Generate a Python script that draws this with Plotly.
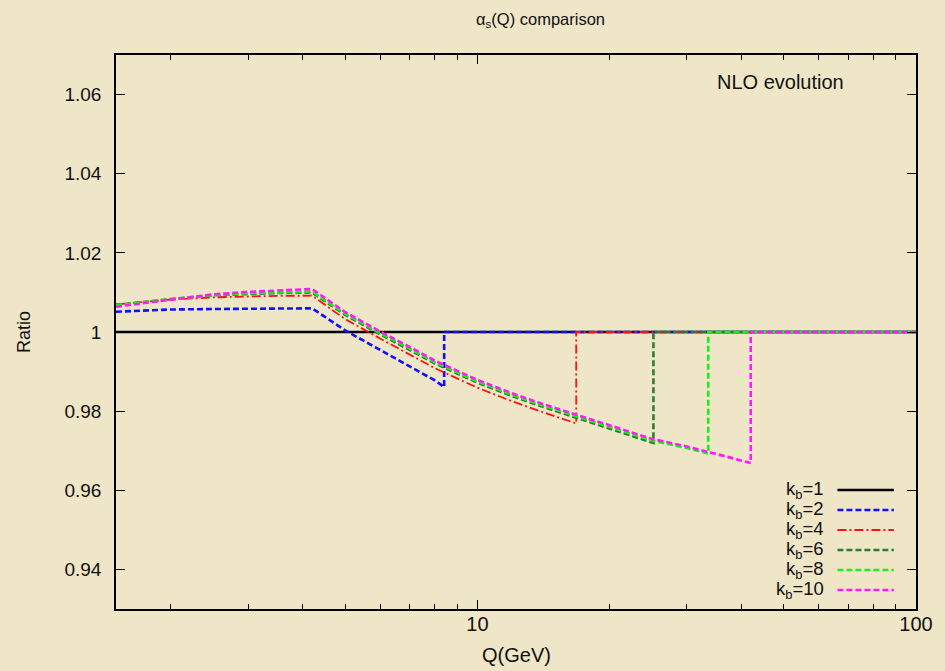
import math
import plotly.graph_objects as go

# alpha_s ratio to the k_b = 1 evolution (b-quark threshold at k_b * m_b)
m_b = 4.2

q_kb1 = [1.5, 100]
r_kb1 = [1.0, 1.0]

q_kb2 = [1.5, 2, 2.5, 3, 3.5, 4.2, 5, 6, 7, 8, 8.4, 8.4, 100]
r_kb2 = [1.00513, 1.00568, 1.00581, 1.00588, 1.00593, 1.00598,
         1.00038, 0.99545, 0.99141, 0.98775, 0.98611, 1.0, 1.0]

q_kb4 = [1.5, 2, 2.5, 3, 3.5, 4.2, 5, 6, 7, 8, 10, 12, 14, 16.8, 16.8, 100]
r_kb4 = [1.00699, 1.00821, 1.00876, 1.00904, 1.00914, 1.00917,
         1.00323, 0.99836, 0.99442, 0.99086, 0.98593, 0.98250, 0.97985,
         0.97689, 1.0, 1.0]

q_kb6 = [1.5, 2, 2.5, 3, 3.5, 4.2, 5, 6, 7, 8, 10, 12, 14, 16.8, 20, 25.2,
         25.2, 100]
r_kb6 = [1.00682, 1.00833, 1.00927, 1.00965, 1.00985, 1.00997,
         1.00430, 0.99943, 0.99556, 0.99205, 0.98720, 0.98382, 0.98122,
         0.97834, 0.97574, 0.97195, 1.0, 1.0]

q_kb8 = [1.5, 2, 2.5, 3, 3.5, 4.2, 5, 6, 7, 8, 10, 12, 14, 16.8, 20, 25, 30,
         33.6, 33.6, 100]
r_kb8 = [1.00677, 1.00828, 1.00934, 1.00980, 1.01005, 1.01023,
         1.00460, 0.99973, 0.99586, 0.99235, 0.98750, 0.98412, 0.98152,
         0.97864, 0.97604, 0.97258, 0.97069, 0.96929, 1.0, 1.0]

q_kb10 = [1.5, 2, 2.5, 3, 3.5, 4.2, 5, 6, 7, 8, 10, 12, 14, 16.8, 20, 25, 30,
          35, 42, 42, 100]
r_kb10 = [1.00639, 1.00821, 1.00952, 1.01015, 1.01048, 1.01086,
          1.00500, 1.00013, 0.99626, 0.99275, 0.98790, 0.98452, 0.98192,
          0.97904, 0.97644, 0.97298, 0.97109, 0.96919, 0.96692, 1.0, 1.0]

series_names = ["k<sub>b</sub>=1", "k<sub>b</sub>=2", "k<sub>b</sub>=4",
                "k<sub>b</sub>=6", "k<sub>b</sub>=8", "k<sub>b</sub>=10"]
series_q = [q_kb1, q_kb2, q_kb4, q_kb6, q_kb8, q_kb10]
series_r = [r_kb1, r_kb2, r_kb4, r_kb6, r_kb8, r_kb10]
series_color = ["#000000", "#1010ff", "#ff1010", "#2e7d2e", "#19f019", "#ff19ff"]
series_dash = ["solid", "6px,3px", "9px,3px,2px,3px", "6px,3px", "6px,3px", "6px,3px"]
series_width = [2.4, 2.6, 1.8, 2.6, 2.6, 2.6]

y_ticks = [0.94, 0.96, 0.98, 1.0, 1.02, 1.04, 1.06]
y_ticktext = ["0.94", "0.96", "0.98", "1", "1.02", "1.04", "1.06"]
x_ticks = [10, 100]
x_minor = [2, 3, 4, 5, 6, 7, 8, 9, 20, 30, 40, 50, 60, 70, 80, 90]

FONT = "Liberation Sans, Arial, Helvetica, sans-serif"
NARROW = "Liberation Sans Narrow, Arial Narrow, Liberation Sans, sans-serif"
BG = "#efe6c8"
INK = "#111111"

fig = go.Figure()
for name, q, r, c, d, w in zip(series_names, series_q, series_r,
                               series_color, series_dash, series_width):
    fig.add_trace(go.Scatter(x=q, y=r, mode="lines", name=name,
                             line=dict(color=c, dash=d, width=w),
                             showlegend=False))

# key in the lower right corner: right-aligned labels, sample line after them
key_y0 = 0.2148
key_step = 0.0361
for i, (name, c, d, w) in enumerate(zip(series_names, series_color,
                                        series_dash, series_width)):
    yk = key_y0 - i * key_step
    fig.add_annotation(x=0.888, y=yk, xref="paper", yref="paper",
                       text=name, showarrow=False, xanchor="right",
                       yanchor="middle", font=dict(family=FONT, size=18.5, color=INK))
    fig.add_shape(type="line", xref="paper", yref="paper",
                  x0=0.9018, x1=0.9723, y0=yk, y1=yk,
                  line=dict(color=c, dash=d, width=w))

fig.add_annotation(x=0.913, y=0.9513, xref="paper", yref="paper",
                   text="NLO evolution", showarrow=False, xanchor="right",
                   yanchor="middle", font=dict(family=FONT, size=20, color=INK))
fig.add_annotation(x=0.53, y=1.063, xref="paper", yref="paper",
                   text="α<sub>s</sub>(Q) comparison", showarrow=False,
                   xanchor="center", yanchor="middle",
                   font=dict(family=NARROW, size=16.5, color=INK))
fig.add_annotation(x=0.5, y=-0.083, xref="paper", yref="paper",
                   text="Q(GeV)", showarrow=False, xanchor="center",
                   yanchor="middle", font=dict(family=NARROW, size=20, color=INK))
fig.add_annotation(x=-0.115, y=0.5, xref="paper", yref="paper",
                   text="Ratio", showarrow=False, textangle=-90,
                   xanchor="center", yanchor="middle",
                   font=dict(family=FONT, size=18, color=INK))

fig.update_layout(
    width=945, height=671, autosize=False,
    margin=dict(l=116, r=20, t=55, b=62),
    paper_bgcolor=BG, plot_bgcolor=BG,
    font=dict(family=FONT, size=19, color=INK),
    showlegend=False,
)
fig.update_xaxes(
    type="log", range=[math.log10(1.5), 2],
    tickvals=x_ticks, ticktext=[str(v) for v in x_ticks],
    ticks="inside", ticklen=9, tickwidth=1.3, tickcolor="#000",
    showline=True, linewidth=1.6, linecolor="#000", mirror="ticks",
    showgrid=False, zeroline=False, ticklabelstandoff=-4,
    tickfont=dict(family=NARROW, size=20, color=INK),
    minor=dict(tickvals=x_minor, ticks="inside", ticklen=5,
               tickwidth=1.2, tickcolor="#000", showgrid=False),
)
fig.update_yaxes(
    range=[0.93, 1.07], tickvals=y_ticks, ticktext=y_ticktext,
    ticks="inside", ticklen=9, tickwidth=1.3, tickcolor="#000",
    showline=True, linewidth=1.6, linecolor="#000", mirror="ticks",
    showgrid=False, zeroline=False, ticklabelstandoff=9,
    tickfont=dict(family=FONT, size=19, color=INK),
)

fig.write_html("out.html")
